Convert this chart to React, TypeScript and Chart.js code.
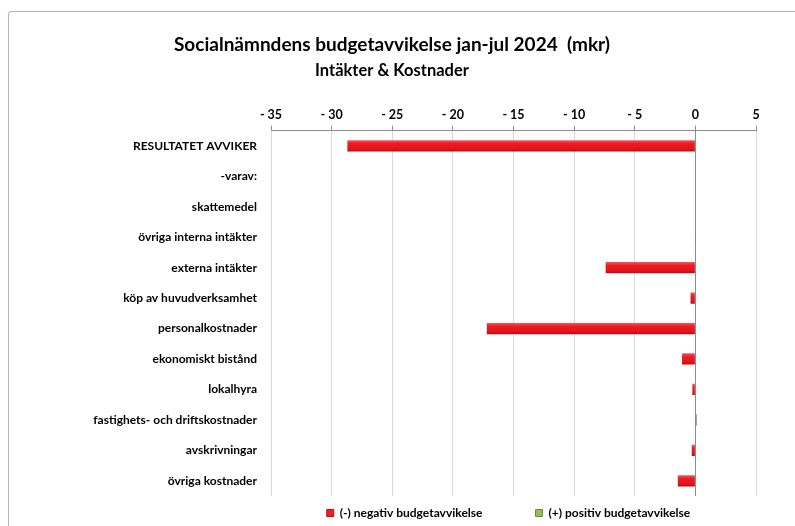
import React, { useEffect, useRef } from 'react';
import { Chart, registerables } from 'chart.js';

Chart.register(...registerables);

const categories = [
  'RESULTATET AVVIKER',
  '-varav:',
  'skattemedel',
  'övriga interna intäkter',
  'externa intäkter',
  'köp av huvudverksamhet',
  'personalkostnader',
  'ekonomiskt bistånd',
  'lokalhyra',
  'fastighets- och driftskostnader',
  'avskrivningar',
  'övriga kostnader',
];

const negativeValues = [-28.7, null, 0, 0, -7.4, -0.4, -17.2, -1.1, -0.25, 0, -0.3, -1.45];
const positiveValues = [0, null, 0, 0.03, 0, 0, 0, 0, 0, 0.1, 0, 0];

const titleText = 'Socialnämndens budgetavvikelse jan-jul 2024  (mkr)';
const subtitleText = 'Intäkter & Kostnader';
const legendLabels = ['(-) negativ budgetavvikelse', '(+) positiv budgetavvikelse'];

const xMin = -35;
const xMax = 5;
const xStep = 5;

const FONT = 'Lato, "Open Sans", "DejaVu Sans", sans-serif';

const RED_SHADE = ['#f25a5f', '#ee1c24', '#e3141b', '#b30f15'];
const GREEN_SHADE = ['#c3d69b', '#9bbb59', '#8eac4f', '#6b8a35'];

const shadingPlugin = {
  id: 'barShading',
  beforeDatasetsDraw(chart: any) {
    const ctx = chart.ctx;
    chart.data.datasets.forEach((ds: any, di: number) => {
      const meta = chart.getDatasetMeta(di);
      const shade = ds.shade as string[];
      meta.data.forEach((el: any) => {
        const { y, height } = el.getProps(['y', 'height'], true);
        if (!isFinite(y) || !isFinite(height) || !el.options) return;
        const top = y - Math.abs(height) / 2;
        const bot = y + Math.abs(height) / 2;
        const g = ctx.createLinearGradient(0, top, 0, bot);
        g.addColorStop(0, shade[0]);
        g.addColorStop(0.3, shade[1]);
        g.addColorStop(0.75, shade[2]);
        g.addColorStop(1, shade[3]);
        el.options.backgroundColor = g;
      });
    });
  },
};

const placePlugin = {
  id: 'placeBoxes',
  afterLayout(chart: any) {
    const ca = chart.chartArea;
    const lg = chart.legend;
    if (lg) {
      lg.left = ca.left - 5;
      lg.right = ca.right - 5;
      lg.top += 3;
      lg.bottom += 3;
    }
    const tb = chart.titleBlock;
    chart.boxes.forEach((b: any) => {
      if (tb && b.constructor === tb.constructor) {
        b.left += 14;
        b.right += 14;
      }
    });
  },
};

export default function App() {
  const ref = useRef<HTMLCanvasElement | null>(null);

  useEffect(() => {
    if (!ref.current) return;
    const chart = new Chart(ref.current, {
      type: 'bar',
      data: {
        labels: categories,
        datasets: [
          {
            label: legendLabels[0],
            data: negativeValues as any,
            backgroundColor: () => RED_SHADE[1],
            borderColor: '#b8121a',
            borderWidth: 0,
            barPercentage: 0.37,
            categoryPercentage: 1,
            shade: RED_SHADE,
          } as any,
          {
            label: legendLabels[1],
            data: positiveValues as any,
            backgroundColor: () => GREEN_SHADE[1],
            borderColor: '#555555',
            borderWidth: 0,
            barPercentage: 0.37,
            categoryPercentage: 1,
            shade: ['#777777', '#666666', '#555555', '#444444'],
          } as any,
        ],
      },
      options: {
        indexAxis: 'y',
        animation: false,
        responsive: false,
        layout: { padding: { left: 0, right: 39, top: 0, bottom: 0 } },
        scales: {
          x: {
            position: 'top',
            min: xMin,
            max: xMax,
            stacked: true,
            ticks: {
              stepSize: xStep,
              padding: 3,
              color: '#000000',
              font: { family: FONT, size: 12.5, weight: 'bold' },
              callback: (v: any) => (Number(v) < 0 ? '- ' + Math.abs(Number(v)) : String(v)),
            },
            grid: {
              color: (c: any) => (c.tick && c.tick.value === 0 ? '#8c8c8c' : '#d9d9d9'),
              tickColor: '#8c8c8c',
              tickLength: 5,
              lineWidth: 1,
            },
            border: { display: true, color: '#8c8c8c' },
            afterFit: (scale: any) => {
              scale.height = 50;
            },
          },
          y: {
            stacked: true,
            ticks: {
              padding: 14,
              color: '#000000',
              font: { family: FONT, size: 12, weight: 'bold' },
            },
            grid: { display: false, drawTicks: false },
            border: { display: false },
            afterFit: (scale: any) => {
              scale.width = 271;
            },
          },
        },
        plugins: {
          title: {
            display: true,
            text: titleText,
            color: '#000000',
            font: { family: FONT, size: 19, weight: 'bold' },
            padding: { top: 33, bottom: 5 },
          },
          subtitle: {
            display: true,
            text: subtitleText,
            color: '#000000',
            font: { family: FONT, size: 16.5, weight: 'bold' },
            padding: { top: 0, bottom: 0 },
          },
          legend: {
            display: true,
            position: 'bottom',
            labels: {
              boxWidth: 7,
              boxHeight: 7,
              padding: 8,
              color: '#000000',
              font: { family: FONT, size: 12, weight: 'bold' },
              generateLabels: (ch: any) => {
                const items = (Chart.defaults.plugins.legend.labels as any).generateLabels(ch);
                const fills = [RED_SHADE[1], GREEN_SHADE[1]];
                const strokes = ['#b8121a', '#6b8a35'];
                items.forEach((it: any, i: number) => {
                  it.text = legendLabels[i] + (i === 0 ? '\u2003\u2003\u2003\u2003\u2003' : '');
                  it.fillStyle = fills[i];
                  it.strokeStyle = strokes[i];
                  it.lineWidth = 1;
                });
                return items;
              },
            },
          },
          tooltip: { enabled: false },
        },
      } as any,
      plugins: [shadingPlugin, placePlugin],
    });
    return () => chart.destroy();
  }, []);

  return (
    <div style={{ position: 'absolute', left: 0, top: 0, width: 795, height: 526, background: '#ffffff', overflow: 'hidden' }}>
      <div
        style={{
          position: 'absolute',
          left: 8,
          top: 11,
          width: 800,
          height: 530,
          border: '1px solid #b5b5b5',
          borderRadius: 3,
          boxShadow: '0 0 1px #d0d0d0',
        }}
      />
      <canvas ref={ref} width={795} height={526} style={{ position: 'absolute', left: 0, top: 0, display: 'block' }} />
    </div>
  );
}
